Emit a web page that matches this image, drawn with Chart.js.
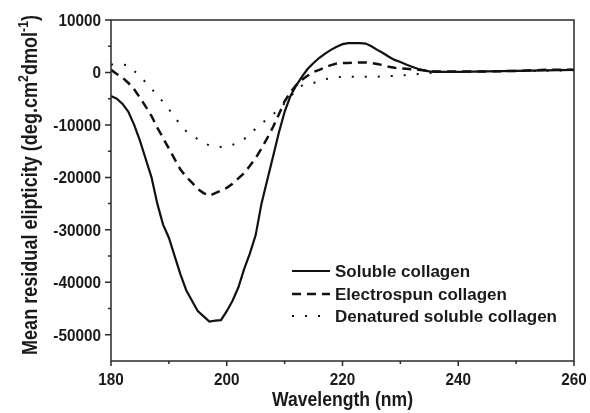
<!DOCTYPE html>
<html>
<head>
<meta charset="utf-8">
<script src="https://cdn.jsdelivr.net/npm/chart.js@4.4.0/dist/chart.umd.min.js"></script>
<style>
  html, body { margin: 0; padding: 0; background: #fff; }
  #wrap { width: 590px; height: 413px; }
</style>
</head>
<body>
<div id="wrap"><canvas id="cdChart"></canvas></div>
<script>
// wavelength (nm) and mean residual ellipticity
const wavelength = [180, 181, 182, 183, 184, 185, 186, 187, 188, 189,
  190, 191, 192, 193, 194, 195, 196, 197, 198, 199,
  200, 201, 202, 203, 204, 205, 206, 207, 208, 209,
  210, 211, 212, 213, 214, 215, 216, 217, 218, 219,
  220, 221, 222, 223, 224, 225, 226, 227, 228, 229,
  230, 231, 232, 233, 234, 235, 236, 238, 240, 245, 250, 255, 260];

const soluble = [-4500, -5000, -6000, -7500, -10000, -13000, -16500, -20000, -25000, -29000,
  -31500, -35000, -38500, -41500, -43500, -45500, -46500, -47500, -47300, -47200,
  -45500, -43500, -41000, -37500, -34500, -31000, -25000, -20500, -16000, -11500,
  -7500, -4500, -2500, -800, 700, 1800, 2800, 3600, 4300, 4900,
  5400, 5600, 5600, 5600, 5500, 5000, 4300, 3700, 3000, 2400,
  2000, 1500, 1100, 700, 400, 200, 100, 100, 100, 200, 300, 400, 500];

const electrospun = [500, -300, -1000, -2000, -3200, -4800, -6500, -8300, -10500, -12500,
  -14500, -16500, -18500, -19900, -21000, -22200, -23000, -23500, -23000, -22500,
  -22000, -21200, -20200, -19200, -17800, -16300, -14500, -12500, -10400, -8000,
  -5500, -3800, -2400, -1400, -600, 100, 500, 1000, 1400, 1700,
  1800, 1800, 1900, 1900, 1900, 1800, 1600, 1400, 1100, 900,
  800, 700, 600, 500, 400, 300, 200, 200, 200, 200, 300, 500, 500];

const denatured = [1500, 1500, 1500, 1400, 300, -700, -1900, -3100, -4400, -5600,
  -7000, -8500, -10000, -11200, -12000, -12700, -13400, -13900, -14100, -14200,
  -14000, -13800, -13300, -12700, -11800, -10700, -9700, -8900, -8000, -7000,
  -5900, -4700, -3300, -2500, -2300, -2000, -1600, -1300, -1100, -900,
  -850, -800, -800, -800, -800, -800, -800, -750, -700, -650,
  -600, -500, -400, -300, -200, -100, 0, 100, 100, 200, 300, 300, 400];

const seriesNames = ["Soluble collagen", "Electrospun collagen", "Denatured soluble collagen"];
const xTicks = [180, 200, 220, 240, 260];
const xMinorTicks = [190, 210, 230, 250];
const yTicks = [10000, 0, -10000, -20000, -30000, -40000, -50000];
const yMinorTicks = [5000, -5000, -15000, -25000, -35000, -45000];

const ink = "#1a1a1a";
const fontFam = "'Liberation Sans', Arial, sans-serif";

function pts(values) {
  return wavelength.map((w, i) => ({ x: w, y: values[i] }));
}

// text squeezed horizontally, as in the original figure
function narrowText(ctx, text, x, y, squeeze, align) {
  ctx.save();
  ctx.translate(x, y);
  ctx.scale(squeeze, 1);
  ctx.textAlign = align;
  ctx.fillText(text, 0, 0);
  ctx.restore();
}

// frame, outward tick marks, tick labels, axis titles and legend
const decor = {
  id: "decor",
  afterDraw(chart) {
    const { ctx, chartArea: a, scales: { x, y } } = chart;
    ctx.save();
    ctx.strokeStyle = "#2a2a2a";
    ctx.lineWidth = 1.5;
    ctx.strokeRect(a.left, a.top, a.right - a.left, a.bottom - a.top);

    ctx.beginPath();
    xTicks.concat(xMinorTicks).forEach(v => {
      const px = x.getPixelForValue(v);
      const len = xTicks.includes(v) ? 5 : 3;
      ctx.moveTo(px, a.bottom);
      ctx.lineTo(px, a.bottom + len);
    });
    yTicks.concat(yMinorTicks).forEach(v => {
      const py = y.getPixelForValue(v);
      const len = yTicks.includes(v) ? 6 : 3;
      ctx.moveTo(a.left, py);
      ctx.lineTo(a.left - len, py);
    });
    ctx.stroke();

    ctx.fillStyle = ink;
    ctx.textBaseline = "alphabetic";
    ctx.font = "bold 17px " + fontFam;
    x.ticks.forEach(t => {
      narrowText(ctx, String(t.value), x.getPixelForValue(t.value), 385, 0.9, "center");
    });
    y.ticks.forEach(t => {
      narrowText(ctx, String(t.value), 101, y.getPixelForValue(t.value) + 6, 0.9, "right");
    });

    // x title
    ctx.font = "bold 20px " + fontFam;
    narrowText(ctx, "Wavelength (nm)", (a.left + a.right) / 2, 406, 0.88, "center");

    // y title with superscripts
    const main = "bold 22px " + fontFam;
    const sup = "bold 15px " + fontFam;
    const parts = [
      ["Mean residual elipticity (deg.cm", main, 0],
      ["2", sup, -9],
      ["dmol", main, 0],
      ["-1", sup, -9],
      [")", main, 0]
    ];
    let total = 0;
    parts.forEach(p => { ctx.font = p[1]; total += ctx.measureText(p[0]).width; });
    ctx.save();
    ctx.translate(37, 185);
    ctx.rotate(-Math.PI / 2);
    ctx.scale(340 / total, 1);
    ctx.textAlign = "left";
    let cx = -total / 2;
    parts.forEach(p => {
      ctx.font = p[1];
      ctx.fillText(p[0], cx, p[2]);
      cx += ctx.measureText(p[0]).width;
    });
    ctx.restore();

    // legend
    const rows = [277, 300, 322];
    chart.data.datasets.forEach((ds, i) => {
      const ly = rows[i] - 6;
      ctx.save();
      ctx.strokeStyle = ds.borderColor;
      ctx.lineWidth = ds.borderWidth;
      ctx.setLineDash(ds.borderDash || []);
      ctx.beginPath();
      ctx.moveTo(292, ly);
      ctx.lineTo(330, ly);
      ctx.stroke();
      ctx.restore();
      ctx.fillStyle = ink;
      ctx.font = "bold 17px " + fontFam;
      ctx.textAlign = "left";
      ctx.fillText(ds.label, 335, rows[i]);
    });
    ctx.restore();
  }
};

const ctx = document.getElementById("cdChart").getContext("2d");
const cdChart = new Chart(ctx, {
  type: "line",
  data: {
    datasets: [
      {
        label: seriesNames[0],
        data: pts(soluble),
        borderColor: "#111",
        borderWidth: 2.2,
        pointRadius: 0,
        tension: 0
      },
      {
        label: seriesNames[1],
        data: pts(electrospun),
        borderColor: "#111",
        borderWidth: 2.5,
        borderDash: [9, 6],
        pointRadius: 0,
        tension: 0
      },
      {
        label: seriesNames[2],
        data: pts(denatured),
        borderColor: "#111",
        borderWidth: 2,
        borderDash: [2, 11],
        pointRadius: 0,
        tension: 0
      }
    ]
  },
  options: {
    responsive: true,
    maintainAspectRatio: false,
    animation: false,
    devicePixelRatio: 1,
    layout: { padding: { left: 0, right: 16, top: 20, bottom: 0 } },
    plugins: { legend: { display: false }, tooltip: { enabled: false } },
    scales: {
      x: {
        type: "linear",
        min: 180,
        max: 260,
        grid: { display: false, drawTicks: false },
        border: { display: false },
        afterBuildTicks: s => { s.ticks = xTicks.map(v => ({ value: v })); },
        afterFit: s => { s.height = 52; },
        ticks: { display: false }
      },
      y: {
        min: -55000,
        max: 10000,
        grid: { display: false, drawTicks: false },
        border: { display: false },
        afterBuildTicks: s => { s.ticks = yTicks.map(v => ({ value: v })); },
        afterFit: s => { s.width = 111; },
        ticks: { display: false }
      }
    }
  },
  plugins: [decor]
});
</script>
</body>
</html>
